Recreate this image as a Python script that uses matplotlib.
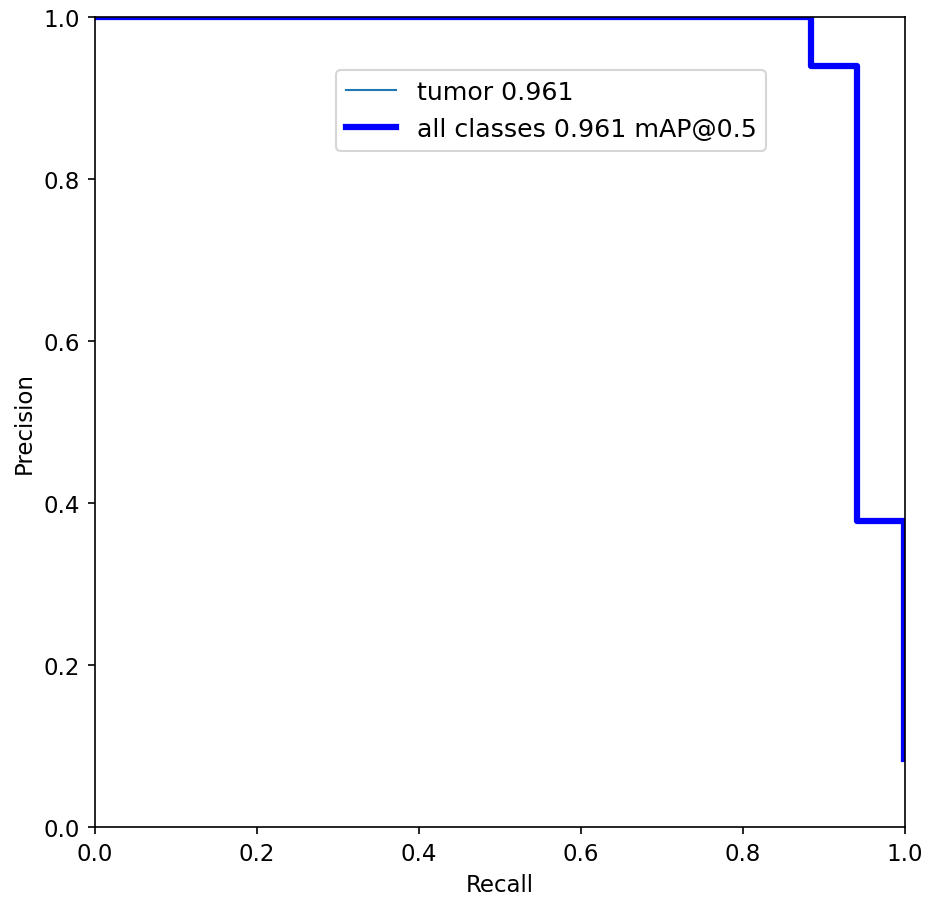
import matplotlib
matplotlib.use("Agg")
import matplotlib.pyplot as plt

# PR curve vertices (step shape)
recall = [0.0, 0.884, 0.884, 0.941, 0.941, 0.999, 0.999]
precision = [1.0, 1.0, 0.940, 0.940, 0.378, 0.378, 0.084]

class_name = "tumor"
class_ap = 0.961
map50 = 0.961

DPI = 150
fig = plt.figure(figsize=(930 / DPI, 903 / DPI), dpi=DPI)
ax = fig.add_axes([0.102, 0.083, 0.871, 0.897])

ax.plot(recall, precision, linewidth=1, color="#1f77b4", label=f"{class_name} {class_ap:.3f}")
ax.plot(recall, precision, linewidth=3, color="blue", label=f"all classes {map50:.3f} mAP@0.5")

ax.set_xlim(0, 1)
ax.set_ylim(0, 1)
ax.set_xlabel("Recall", fontsize=11)
ax.set_ylabel("Precision", fontsize=11)
ax.tick_params(labelsize=11)
ax.legend(loc="upper left", bbox_to_anchor=(0.2975, 0.9345), borderaxespad=0, fontsize=12.1)

fig.savefig("out.png", dpi=DPI)
